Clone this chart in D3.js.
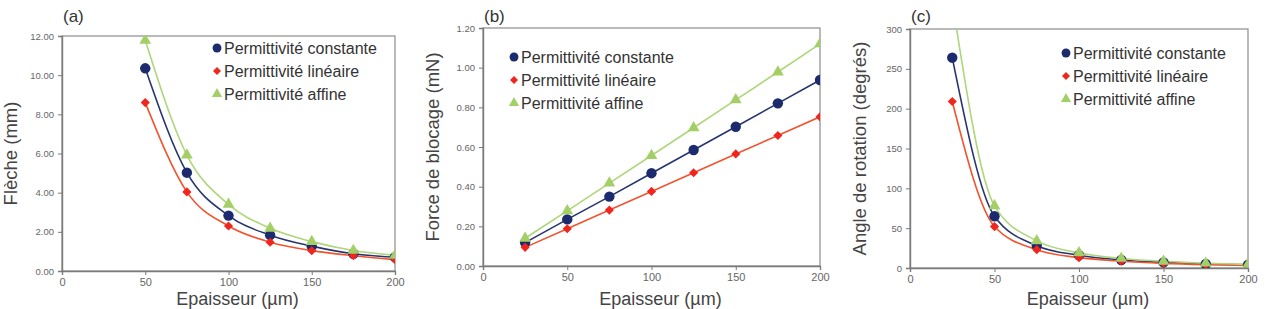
<!DOCTYPE html>
<html>
<head>
<meta charset="utf-8">
<script src="https://cdn.jsdelivr.net/npm/d3@7"></script>
<style>
  body { margin: 0; background: #fff; }
  svg { display: block; font-family: "Liberation Sans", Arial, sans-serif; }
  .tick line, .domain { stroke: #7a7a7a; }
</style>
</head>
<body>
<div id="main"></div>
<script>
// shared
const seriesNames = ['Permittivité constante', 'Permittivité linéaire', 'Permittivité affine'];
const markerColors = ['#1c2a6e', '#f0261e', '#a3cf66'];
const lineColors = ['#26356f', '#f2532f', '#afd67a'];
const markerTypes = [d3.symbolCircle, d3.symbolSquare, d3.symbolTriangle];
const markerRotate = [0, 45, 0];

// (a) flèche
const xA = [50, 75, 100, 125, 150, 175, 200];
const aConst = [10.35, 5.02, 2.83, 1.83, 1.27, 0.88, 0.70];
const aLin = [8.60, 4.04, 2.30, 1.47, 1.04, 0.78, 0.58];
const aAff = [11.78, 5.92, 3.40, 2.18, 1.50, 1.05, 0.80];
const yTicksA = [0, 2, 4, 6, 8, 10, 12];

// (b) force de blocage
const xB = [25, 50, 75, 100, 125, 150, 175, 200];
const bConst = [0.118, 0.235, 0.350, 0.468, 0.585, 0.702, 0.820, 0.938];
const bLin = [0.094, 0.188, 0.282, 0.376, 0.470, 0.565, 0.658, 0.752];
const bAff = [0.140, 0.278, 0.418, 0.557, 0.697, 0.838, 0.978, 1.120];
const yTicksB = [0, 0.2, 0.4, 0.6, 0.8, 1.0, 1.2];

// (c) angle de rotation
const xC = [25, 50, 75, 100, 125, 150, 175, 200];
const cConst = [264, 65, 28, 16, 10, 7, 5, 4];
const cLin = [209, 52, 23, 13, 8.5, 5.8, 4.2, 3.2];
const cAff = [335, 78, 34, 19, 12, 8.5, 6, 4.5];
const yTicksC = [0, 50, 100, 150, 200, 250, 300];

const xTicks = [0, 50, 100, 150, 200];

const width = 1266, height = 309;
const svg = d3.select('#main').append('svg').attr('width', width).attr('height', height);

function marker(i, big) {
  const sizes = big ? [85, 42, 60] : [62, 32, 45];
  return d3.symbol().type(markerTypes[i]).size(sizes[i])();
}

function panel(id, box, xs, series, yMax, yTicks, yFmt, yTitle, tag, legendPos, smooth, yTitleX) {
  const x = d3.scaleLinear().domain([0, 200]).range([box.left, box.right]);
  const y = d3.scaleLinear().domain([0, yMax]).range([box.bottom, box.top]);
  const g = svg.append('g');

  g.append('clipPath').attr('id', 'clip' + id).append('rect')
    .attr('x', box.left).attr('y', box.top)
    .attr('width', box.right - box.left).attr('height', box.bottom - box.top);

  // frame
  g.append('rect')
    .attr('x', box.left).attr('y', box.top)
    .attr('width', box.right - box.left).attr('height', box.bottom - box.top)
    .attr('fill', 'none').attr('stroke', '#8c8c8c').attr('stroke-width', 1.2);

  const ax = g.append('g').attr('transform', `translate(0,${box.bottom})`)
    .call(d3.axisBottom(x).tickValues(xTicks).tickSize(4).tickPadding(3).tickFormat(d3.format('d')));
  ax.selectAll('text').attr('font-size', 11).attr('fill', '#666');
  const ay = g.append('g').attr('transform', `translate(${box.left},0)`)
    .call(d3.axisLeft(y).tickValues(yTicks).tickSize(4).tickPadding(4).tickFormat(d3.format(yFmt)));
  ay.selectAll('text').attr('font-size', 9.5).attr('fill', '#666');
  g.selectAll('.domain').attr('stroke-width', 1.4);

  const line = d3.line().x(d => x(d[0])).y(d => y(d[1]))
    .curve(smooth ? d3.curveMonotoneX : d3.curveLinear);
  const plot = g.append('g').attr('clip-path', `url(#clip${id})`);

  series.forEach((vals, i) => {
    const pts = xs.map((v, k) => [v, vals[k]]);
    plot.append('path').datum(pts).attr('d', line)
      .attr('fill', 'none').attr('stroke', lineColors[i]).attr('stroke-width', 1.6);
  });
  series.forEach((vals, i) => {
    const pts = xs.map((v, k) => [v, vals[k]]);
    plot.selectAll(null).data(pts).join('path')
      .attr('transform', d => `translate(${x(d[0])},${y(d[1])}) rotate(${markerRotate[i]})`)
      .attr('d', marker(i, true))
      .attr('fill', markerColors[i]);
  });

  // legend
  const lg = g.append('g').attr('transform', `translate(${legendPos[0]},${legendPos[1]})`);
  seriesNames.forEach((name, i) => {
    const row = lg.append('g').attr('transform', `translate(0,${i * 23})`);
    row.append('path').attr('d', marker(i, false))
      .attr('transform', `rotate(${markerRotate[i]})`)
      .attr('fill', markerColors[i]);
    row.append('text').attr('x', 7).attr('dy', '0.36em')
      .attr('font-size', 16).attr('fill', '#333').text(name);
  });

  // titles
  g.append('text').attr('x', (box.left + box.right) / 2 + 9).attr('y', 305)
    .attr('text-anchor', 'middle').attr('font-size', 18).attr('fill', '#444')
    .text('Epaisseur (µm)');
  g.append('text')
    .attr('transform', `translate(${yTitleX},${(box.top + box.bottom) / 2}) rotate(-90)`)
    .attr('dy', '0.35em')
    .attr('text-anchor', 'middle').attr('font-size', 18.5).attr('fill', '#444')
    .text(yTitle);
  g.append('text').attr('x', box.left + 1).attr('y', 22)
    .attr('font-size', 17).attr('fill', '#333').text(tag);
}

panel('a', {left: 62, right: 395, top: 36, bottom: 271}, xA, [aConst, aLin, aAff],
  12, yTicksA, '.2f', 'Flèche (mm)', '(a)', [217, 48], true, 11);
panel('b', {left: 483, right: 820, top: 28, bottom: 266}, xB, [bConst, bLin, bAff],
  1.2, yTicksB, '.2f', 'Force de blocage (mN)', '(b)', [514, 57], false, 433);
panel('c', {left: 910, right: 1248, top: 29, bottom: 268}, xC, [cConst, cLin, cAff],
  300, yTicksC, 'd', 'Angle de rotation (degrés)', '(c)', [1066, 53], true, 860);
</script>
</body>
</html>
